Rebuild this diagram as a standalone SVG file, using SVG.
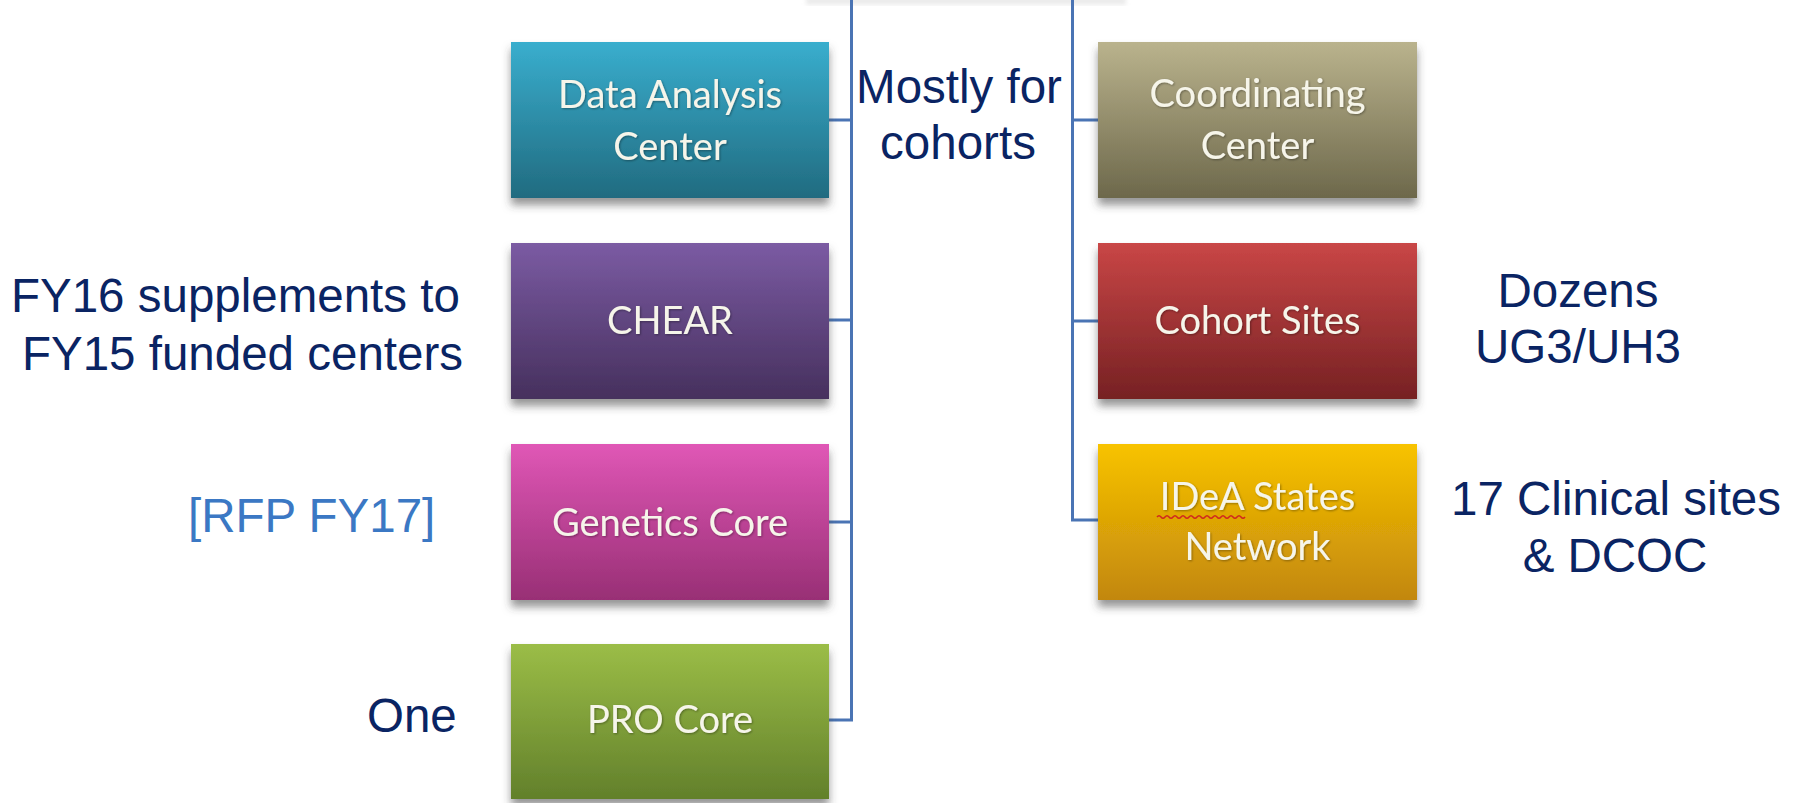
<svg xmlns="http://www.w3.org/2000/svg" width="1802" height="803" viewBox="0 0 1802 803">
<style>
.box{filter:url(#shadow);}
.lbl{font-family:Lato,"Open Sans","Liberation Sans",sans-serif;font-size:38px;fill:#f6f5ea;text-anchor:middle;filter:url(#tshadow);}
.note{font-family:"Liberation Sans",Arial,sans-serif;font-size:47.5px;fill:#0a2463;}
.mid{text-anchor:middle;}
.conn{fill:none;stroke:#4a74b4;stroke-width:3;}
</style>
<defs>
<filter id="shadow" x="-10%" y="-10%" width="120%" height="130%">
<feDropShadow dx="0" dy="7" stdDeviation="4" flood-color="#404040" flood-opacity="0.55"/>
</filter>
<filter id="tshadow" x="-5%" y="-20%" width="110%" height="140%">
<feDropShadow dx="1" dy="1" stdDeviation="0.8" flood-color="#000" flood-opacity="0.35"/>
</filter>
<filter id="blur"><feGaussianBlur stdDeviation="2"/></filter>
<linearGradient id="gTeal" x1="0" y1="0" x2="0" y2="1"><stop offset="0" stop-color="#39aece"/><stop offset="1" stop-color="#216b80"/></linearGradient>
<linearGradient id="gPurple" x1="0" y1="0" x2="0" y2="1"><stop offset="0" stop-color="#7b5ba3"/><stop offset="1" stop-color="#46305d"/></linearGradient>
<linearGradient id="gPink" x1="0" y1="0" x2="0" y2="1"><stop offset="0" stop-color="#e057b6"/><stop offset="1" stop-color="#982f75"/></linearGradient>
<linearGradient id="gGreen" x1="0" y1="0" x2="0" y2="1"><stop offset="0" stop-color="#9bbd47"/><stop offset="1" stop-color="#62802b"/></linearGradient>
<linearGradient id="gOlive" x1="0" y1="0" x2="0" y2="1"><stop offset="0" stop-color="#bab38d"/><stop offset="1" stop-color="#6d684b"/></linearGradient>
<linearGradient id="gRed" x1="0" y1="0" x2="0" y2="1"><stop offset="0" stop-color="#c94646"/><stop offset="1" stop-color="#762123"/></linearGradient>
<linearGradient id="gGold" x1="0" y1="0" x2="0" y2="1"><stop offset="0" stop-color="#f8c300"/><stop offset="1" stop-color="#c2870c"/></linearGradient>
</defs>
<rect width="1802" height="803" fill="#ffffff"/>
<rect x="806" y="-4" width="320" height="9" fill="#d8d8d8" filter="url(#blur)" opacity="0.5"/>

<g id="connectors">
<path class="conn" d="M851.5,0 V720 H829 M829,120 H851.5 M829,320 H851.5 M829,522 H851.5"/>
<path class="conn" d="M1072.5,0 V520 H1098 M1072.5,120 H1098 M1072.5,321 H1098"/>
</g>

<g id="data-analysis-center">
<rect class="box" x="511" y="42" width="318" height="156" fill="url(#gTeal)"/>
<text class="lbl" x="670" y="108">Data Analysis</text>
<text class="lbl" x="670" y="160">Center</text>
</g>
<g id="chear">
<rect class="box" x="511" y="243" width="318" height="156" fill="url(#gPurple)"/>
<text class="lbl" x="670" y="334">CHEAR</text>
</g>
<g id="genetics-core">
<rect class="box" x="511" y="444" width="318" height="156" fill="url(#gPink)"/>
<text class="lbl" x="670" y="536">Genetics Core</text>
</g>
<g id="pro-core">
<rect class="box" x="511" y="644" width="318" height="155" fill="url(#gGreen)"/>
<text class="lbl" x="670" y="733">PRO Core</text>
</g>
<g id="coordinating-center">
<rect class="box" x="1098" y="42" width="319" height="156" fill="url(#gOlive)"/>
<text class="lbl" x="1257.5" y="107">Coordinating</text>
<text class="lbl" x="1257.5" y="159">Center</text>
</g>
<g id="cohort-sites">
<rect class="box" x="1098" y="243" width="319" height="156" fill="url(#gRed)"/>
<text class="lbl" x="1257.5" y="334">Cohort Sites</text>
</g>
<g id="idea-states-network">
<rect class="box" x="1098" y="444" width="319" height="156" fill="url(#gGold)"/>
<text class="lbl" x="1257.5" y="510">IDeA States</text>
<text class="lbl" x="1257.5" y="560">Network</text>
<path d="M1157,517 q2,-2.5 4,0 t4,0 t4,0 t4,0 t4,0 t4,0 t4,0 t4,0 t4,0 t4,0 t4,0 t4,0 t4,0 t4,0 t4,0 t4,0 t4,0 t4,0 t4,0 t4,0 t4,0 t4,0" fill="none" stroke="#d0281e" stroke-width="1.5"/>
</g>

<g id="annotations">
<text class="note mid" x="959" y="103">Mostly for</text>
<text class="note mid" x="958" y="159">cohorts</text>
<text class="note" x="11" y="312">FY16 supplements to</text>
<text class="note" x="22" y="370">FY15 funded centers</text>
<text class="note" x="188" y="532" style="fill:#3b78c4">[RFP FY17]</text>
<text class="note" x="367" y="732">One</text>
<text class="note mid" x="1578" y="307">Dozens</text>
<text class="note mid" x="1578" y="363">UG3/UH3</text>
<text class="note mid" x="1616" y="515">17 Clinical sites</text>
<text class="note mid" x="1615" y="572">&amp; DCOC</text>
</g>
</svg>
